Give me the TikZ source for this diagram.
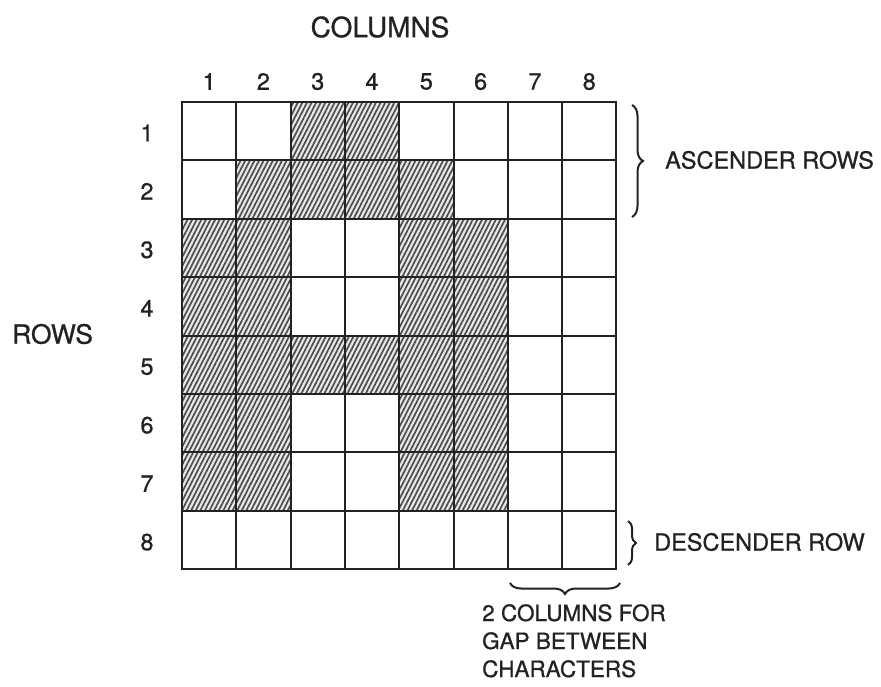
\documentclass[tikz,border=0pt]{standalone}
\usepackage{fontspec}
\setmainfont{TeX Gyre Heros}[FakeBold=0.8]
\usetikzlibrary{patterns.meta,decorations.pathreplacing}
\definecolor{ink}{HTML}{222222}
\begin{document}
\begin{tikzpicture}[x=1pt,y=1pt,
  lbl/.style={text=ink,inner sep=0pt,font=\fontsize{23.5}{26}\selectfont},
  gridline/.style={draw=ink,line width=2pt},
  hatchcell/.style={pattern={Lines[angle=63,distance=4.1pt,line width=1.7pt]},pattern color=black!70},
  bracestyle/.style={draw=ink,line width=2pt,decorate}]
\useasboundingbox (0,0) rectangle (881,-687);
\fill[white] (0,0) rectangle (881,-687);
\def\XO{182}\def\YO{-101.7}\def\CW{54.3}\def\RH{58.45}
% shaded cells
\foreach \r/\cols in {1/{3,4},2/{2,3,4,5},3/{1,2,5,6},4/{1,2,5,6},5/{1,2,3,4,5,6},6/{1,2,5,6},7/{1,2,5,6}}{
  \foreach \c in \cols {
    \fill[gray!18] ({\XO+(\c-1)*\CW},{\YO-(\r-1)*\RH}) rectangle ({\XO+\c*\CW},{\YO-\r*\RH});
    \fill[hatchcell] ({\XO+(\c-1)*\CW},{\YO-(\r-1)*\RH}) rectangle ({\XO+\c*\CW},{\YO-\r*\RH});
  }
}
% grid
\foreach \i in {0,...,8}{
  \draw[gridline] ({\XO+\i*\CW},{\YO}) -- ({\XO+\i*\CW},{\YO-8*\RH});
  \draw[gridline] ({\XO},{\YO-\i*\RH}) -- ({\XO+8*\CW},{\YO-\i*\RH});
}
\draw[gridline,line cap=rect] ({\XO},{\YO}) rectangle ({\XO+8*\CW},{\YO-8*\RH});
% column and row numbers
\foreach \i in {1,...,8}{
  \node[lbl] (col\i) at ({\XO+(\i-0.5)*\CW},-81.5) {\i};
  \node[lbl] (row\i) at (147,{\YO-(\i-0.5)*\RH-2}) {\i};
}
\node[lbl,font=\fontsize{28}{30}\selectfont] (columns) at (380,-27) {COLUMNS};
\node[lbl,anchor=west,font=\fontsize{26.5}{28}\selectfont] (rows) at (12,-334) {ROWS};
% braces
\coordinate (ascT) at (632,-105);
\coordinate (ascB) at (632,-217);
\draw[bracestyle,decoration={brace,amplitude=11pt}] (ascT) -- (ascB);
\node[lbl,anchor=west] (asc) at (665,-160) {ASCENDER ROWS};
\coordinate (desT) at (628,-521);
\coordinate (desB) at (628,-565);
\draw[bracestyle,decoration={brace,amplitude=8pt}] (desT) -- (desB);
\node[lbl,anchor=west] (des) at (654,-542) {DESCENDER ROW};
\coordinate (gapR) at (620,-583);
\coordinate (gapL) at (510,-583);
\draw[bracestyle,decoration={brace,amplitude=11pt}] (gapR) -- (gapL);
\node[lbl,anchor=north west,align=left,font=\fontsize{22.5}{28}\selectfont] (gap) at (482,-604) {2 COLUMNS FOR\\GAP BETWEEN\\CHARACTERS};
\end{tikzpicture}
\end{document}
